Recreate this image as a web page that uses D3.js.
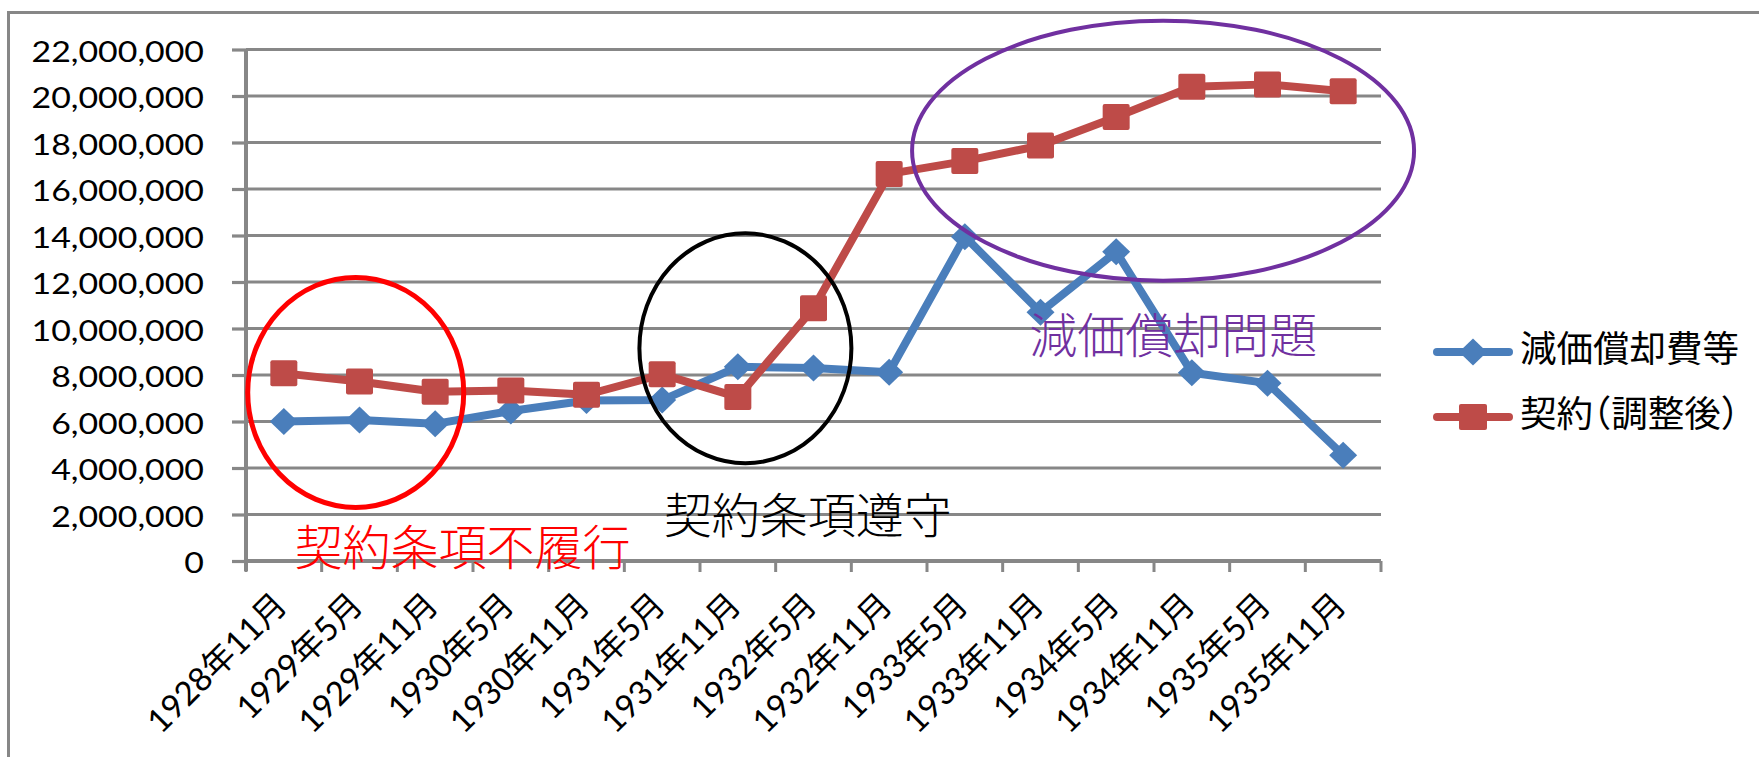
<!DOCTYPE html>
<html>
<head>
<meta charset="utf-8">
<script src="https://cdn.jsdelivr.net/npm/d3@7"></script>
<style>
  html, body { margin: 0; padding: 0; background: #fff; }
  svg { display: block; }
</style>
</head>
<body>
<svg id="chart" width="1759" height="757"></svg>
<script>
// Half-yearly periods
const categories = [
  "1928年11月", "1929年5月", "1929年11月", "1930年5月", "1930年11月",
  "1931年5月", "1931年11月", "1932年5月", "1932年11月", "1933年5月",
  "1933年11月", "1934年5月", "1934年11月", "1935年5月", "1935年11月"
];

// 減価償却費等
const depreciation = [
  6000000, 6060000, 5900000, 6450000, 6900000,
  6920000, 8350000, 8300000, 8120000, 13950000,
  10700000, 13300000, 8100000, 7650000, 4550000
];

// 契約（調整後）
const contract = [
  8070000, 7720000, 7280000, 7330000, 7150000,
  8030000, 7050000, 10870000, 16650000, 17200000,
  17870000, 19100000, 20400000, 20500000, 20200000
];

const yTicks = [0, 2000000, 4000000, 6000000, 8000000, 10000000,
  12000000, 14000000, 16000000, 18000000, 20000000, 22000000];

const seriesNames = ["減価償却費等", "契約（調整後）"];

// Highlighted periods: ellipse centre (category index, value), radii in px,
// and where the caption's baseline starts (category index, value)
const highlights = [
  { label: "契約条項不履行", color: "#ff0000", at: 0.95, value: 7250000, rx: 108, ry: 115, width: 5,
    text: { at: 0.14, value: -170000 } },
  { label: "契約条項遵守", color: "#000000", at: 6.1, value: 9150000, rx: 106, ry: 115, width: 4,
    text: { at: 5.02, value: 1220000 } },
  { label: "減価償却問題", color: "#7030a0", at: 11.62, value: 17650000, rx: 251, ry: 130, width: 4,
    text: { at: 9.85, value: 8940000 } }
];

const BLUE = "#4a7ebb";
const RED = "#be4b48";
const GRID = "#878787";
const NUM_FONT = "Lato, 'Noto Sans CJK JP', sans-serif";
const JP_FONT = "'Noto Sans CJK JP', sans-serif";

const svg = d3.select("#chart");

const plot = { left: 246, right: 1381, top: 49.5, bottom: 561 };

const x = d3.scaleBand().domain(categories).range([plot.left, plot.right]).padding(0);
const y = d3.scaleLinear().domain([0, 22000000]).range([plot.bottom, plot.top]);
const cx = c => x(c) + x.bandwidth() / 2;
const xAt = i => x(categories[0]) + (i + 0.5) * x.bandwidth();
const fmt = d3.format(",");

// chart frame
svg.append("rect")
  .attr("x", 8.5).attr("y", 12.5)
  .attr("width", 1800).attr("height", 800)
  .attr("fill", "none").attr("stroke", GRID).attr("stroke-width", 3);

// y ticks (outside) and horizontal gridlines
const yAxis = d3.axisLeft(y).tickValues(yTicks).tickSize(14).tickFormat("");
const gy = svg.append("g").attr("transform", `translate(${plot.left},0)`).call(yAxis);
gy.select(".domain").remove();
gy.selectAll(".tick line").attr("stroke", GRID).attr("stroke-width", 3.2);

svg.append("g").selectAll("line").data(yTicks).join("line")
  .attr("x1", plot.left).attr("x2", plot.right)
  .attr("y1", d => y(d)).attr("y2", d => y(d))
  .attr("stroke", GRID).attr("stroke-width", 3.2);

// y tick labels
svg.append("g").selectAll("text").data(yTicks).join("text")
  .attr("transform", d => `translate(204,${y(d) + 12}) scale(1.21,1)`)
  .attr("text-anchor", "end")
  .attr("font-family", NUM_FONT)
  .attr("font-size", 28)
  .attr("fill", "#000")
  .text(d => fmt(d));

// y axis line
svg.append("line")
  .attr("x1", plot.left).attr("x2", plot.left)
  .attr("y1", plot.top).attr("y2", plot.bottom + 10)
  .attr("stroke", GRID).attr("stroke-width", 4);

// x axis with ticks on category boundaries
const xBounds = categories.map(c => x(c)).concat([plot.right]);
svg.append("g").selectAll("line").data(xBounds).join("line")
  .attr("x1", d => d).attr("x2", d => d)
  .attr("y1", plot.bottom).attr("y2", plot.bottom + 11)
  .attr("stroke", GRID).attr("stroke-width", 3);
svg.append("line")
  .attr("x1", plot.left).attr("x2", plot.right)
  .attr("y1", plot.bottom).attr("y2", plot.bottom)
  .attr("stroke", GRID).attr("stroke-width", 4);

// x labels, rotated
svg.append("g").selectAll("text").data(categories).join("text")
  .attr("transform", c => `translate(${cx(c) + 5},${plot.bottom + 46}) rotate(-45)`)
  .attr("text-anchor", "end")
  .attr("font-family", NUM_FONT)
  .attr("font-size", 33)
  .attr("fill", "#000")
  .text(c => c);

// series
const line = d3.line().x((d, i) => cx(categories[i])).y(d => y(d));
const diamond = "M0,-13.5L14,0L0,13.5L-14,0Z";

function drawSeries(values, color, marker) {
  const g = svg.append("g");
  g.append("path").datum(values)
    .attr("d", line)
    .attr("fill", "none").attr("stroke", color)
    .attr("stroke-width", 8).attr("stroke-linejoin", "round").attr("stroke-linecap", "round");
  const pts = g.selectAll(".pt").data(values).join("g")
    .attr("transform", (d, i) => `translate(${cx(categories[i])},${y(d)})`);
  if (marker === "diamond") {
    pts.append("path").attr("d", diamond).attr("fill", color);
  } else {
    pts.append("rect").attr("x", -13.5).attr("y", -13).attr("width", 27).attr("height", 26)
      .attr("rx", 2).attr("fill", color);
  }
}
drawSeries(depreciation, BLUE, "diamond");
drawSeries(contract, RED, "square");

// highlight ellipses and captions
highlights.forEach(h => {
  svg.append("ellipse")
    .attr("cx", xAt(h.at)).attr("cy", y(h.value))
    .attr("rx", h.rx).attr("ry", h.ry)
    .attr("fill", "none").attr("stroke", h.color).attr("stroke-width", h.width);
  svg.append("text")
    .attr("x", xAt(h.text.at)).attr("y", y(h.text.value))
    .attr("font-family", JP_FONT)
    .attr("font-size", 48)
    .attr("font-weight", 300)
    .attr("fill", h.color)
    .text(h.label);
});

// legend
const legend = svg.append("g").attr("transform", "translate(1433,0)");
const legendRows = [
  { name: seriesNames[0], color: BLUE, marker: "diamond", y: 352 },
  { name: seriesNames[1], color: RED, marker: "square", y: 417 }
];
legendRows.forEach(r => {
  legend.append("line")
    .attr("x1", 4).attr("x2", 76).attr("y1", r.y).attr("y2", r.y)
    .attr("stroke", r.color).attr("stroke-width", 8).attr("stroke-linecap", "round");
  if (r.marker === "diamond") {
    legend.append("path").attr("transform", `translate(40,${r.y})`).attr("d", diamond).attr("fill", r.color);
  } else {
    legend.append("rect").attr("x", 26).attr("y", r.y - 13).attr("width", 28).attr("height", 26)
      .attr("rx", 2).attr("fill", r.color);
  }
  legend.append("text")
    .attr("x", 87).attr("y", r.y + 10)
    .attr("font-family", JP_FONT)
    .attr("font-size", 36.5)
    .style("font-feature-settings", "'halt'")
    .attr("fill", "#000")
    .text(r.name);
});
</script>
</body>
</html>
